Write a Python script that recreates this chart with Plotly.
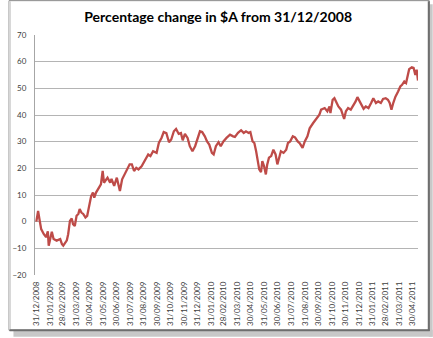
import plotly.graph_objects as go

# Percentage change of the Australian dollar since 31/12/2008
dates = [
    "2008-12-31", "2009-01-04", "2009-01-07", "2009-01-11", "2009-01-17", "2009-01-22",
    "2009-01-26", "2009-01-28", "2009-02-04", "2009-02-08", "2009-02-15", "2009-02-23",
    "2009-02-27", "2009-03-02", "2009-03-10", "2009-03-13", "2009-03-17", "2009-03-21",
    "2009-03-24", "2009-03-28", "2009-04-01", "2009-04-05", "2009-04-08", "2009-04-12",
    "2009-04-16", "2009-04-21", "2009-04-25", "2009-04-29", "2009-05-04", "2009-05-08",
    "2009-05-11", "2009-05-15", "2009-05-21", "2009-05-26", "2009-05-30", "2009-06-02",
    "2009-06-10", "2009-06-16", "2009-06-19", "2009-06-25", "2009-07-01", "2009-07-06",
    "2009-07-08", "2009-07-13", "2009-07-19", "2009-07-24", "2009-07-30", "2009-08-04",
    "2009-08-09", "2009-08-14", "2009-08-19", "2009-08-26", "2009-09-03", "2009-09-10",
    "2009-09-15", "2009-09-21", "2009-09-29", "2009-10-04", "2009-10-10", "2009-10-15",
    "2009-10-21", "2009-10-27", "2009-11-01", "2009-11-07", "2009-11-12", "2009-11-18",
    "2009-11-23", "2009-11-27", "2009-12-02", "2009-12-08", "2009-12-13", "2009-12-19",
    "2009-12-25", "2009-12-30", "2010-01-05", "2010-01-10", "2010-01-16", "2010-01-21",
    "2010-01-26", "2010-02-01", "2010-02-05", "2010-02-10", "2010-02-16", "2010-02-21",
    "2010-02-27", "2010-03-06", "2010-03-14", "2010-03-21", "2010-03-25", "2010-04-01",
    "2010-04-08", "2010-04-14", "2010-04-19", "2010-04-25", "2010-04-29", "2010-05-04",
    "2010-05-08", "2010-05-12", "2010-05-15", "2010-05-19", "2010-05-23", "2010-05-26",
    "2010-05-30", "2010-06-03", "2010-06-06", "2010-06-10", "2010-06-15", "2010-06-20",
    "2010-06-25", "2010-06-29", "2010-07-02", "2010-07-07", "2010-07-13", "2010-07-19",
    "2010-07-23", "2010-07-28", "2010-08-03", "2010-08-08", "2010-08-14", "2010-08-19",
    "2010-08-25", "2010-08-30", "2010-09-05", "2010-09-10", "2010-09-18", "2010-09-25",
    "2010-10-02", "2010-10-06", "2010-10-14", "2010-10-20", "2010-10-25", "2010-10-27",
    "2010-11-01", "2010-11-05", "2010-11-08", "2010-11-14", "2010-11-20", "2010-11-23",
    "2010-11-27", "2010-12-01", "2010-12-06", "2010-12-12", "2010-12-18", "2010-12-23",
    "2010-12-27", "2011-01-01", "2011-01-05", "2011-01-10", "2011-01-15", "2011-01-21",
    "2011-01-27", "2011-02-01", "2011-02-07", "2011-02-12", "2011-02-18", "2011-02-23",
    "2011-03-01", "2011-03-06", "2011-03-10", "2011-03-14", "2011-03-18", "2011-03-23",
    "2011-03-29", "2011-04-03", "2011-04-07", "2011-04-12", "2011-04-16", "2011-04-20",
    "2011-04-23", "2011-04-29", "2011-05-03", "2011-05-07", "2011-05-10", "2011-05-13",
]

pct_change = [
    0.0, 4.0, 1.0, -2.8, -4.7, -5.8,
    -3.6, -9.0, -3.8, -6.5, -7.1, -6.5,
    -8.4, -9.0, -7.0, -4.7, 0.3, 1.2,
    -0.9, -1.6, 2.2, 2.9, 4.7, 3.4,
    2.9, 1.6, 2.2, 5.9, 9.6, 10.9,
    9.0, 10.9, 12.8, 14.0, 19.0, 14.6,
    16.5, 14.6, 16.0, 13.4, 16.5, 12.8,
    11.5, 15.9, 17.7, 19.6, 21.5, 21.5,
    19.0, 20.2, 19.6, 20.8, 23.3, 25.2,
    24.6, 26.4, 25.8, 29.5, 31.4, 33.6,
    33.2, 29.8, 30.8, 33.9, 34.8, 32.9,
    33.2, 30.5, 32.9, 31.4, 28.3, 26.4,
    28.3, 30.8, 33.9, 33.6, 32.0, 30.1,
    28.9, 25.8, 25.2, 28.3, 29.8, 28.3,
    30.1, 31.4, 32.6, 32.0, 31.8, 33.3,
    34.3, 33.3, 33.9, 33.3, 33.6, 30.1,
    29.5, 26.4, 23.3, 19.6, 18.6, 22.7,
    20.8, 17.7, 21.4, 24.0, 24.6, 27.0,
    25.2, 21.5, 23.3, 26.4, 25.8, 27.0,
    29.5, 30.1, 32.0, 31.6, 30.1, 29.3,
    27.7, 30.1, 32.0, 35.0, 37.0, 38.5,
    40.1, 42.0, 42.6, 41.4, 43.2, 40.7,
    45.7, 46.3, 45.1, 43.2, 42.0, 40.1,
    38.5, 41.4, 42.6, 42.0, 43.5, 45.1,
    46.7, 45.1, 43.9, 42.3, 43.2, 42.6,
    44.5, 46.3, 44.5, 45.1, 44.5, 46.0,
    46.3, 45.7, 44.5, 42.0, 44.5, 46.9,
    48.8, 50.7, 51.3, 52.6, 52.0, 55.7,
    57.2, 57.9, 57.7, 55.0, 57.0, 52.9,
]

# Month-end labels on the category axis
tick_dates = [
    "2008-12-31", "2009-01-31", "2009-02-28", "2009-03-31", "2009-04-30", "2009-05-31",
    "2009-06-30", "2009-07-31", "2009-08-31", "2009-09-30", "2009-10-31", "2009-11-30",
    "2009-12-31", "2010-01-31", "2010-02-28", "2010-03-31", "2010-04-30", "2010-05-31",
    "2010-06-30", "2010-07-31", "2010-08-31", "2010-09-30", "2010-10-31", "2010-11-30",
    "2010-12-31", "2011-01-31", "2011-02-28", "2011-03-31", "2011-04-30",
]
tick_labels = [
    "31/12/2008", "31/01/2009", "28/02/2009", "31/03/2009", "30/04/2009", "31/05/2009",
    "30/06/2009", "31/07/2009", "31/08/2009", "30/09/2009", "31/10/2009", "30/11/2009",
    "31/12/2009", "31/01/2010", "28/02/2010", "31/03/2010", "30/04/2010", "31/05/2010",
    "30/06/2010", "31/07/2010", "31/08/2010", "30/09/2010", "31/10/2010", "30/11/2010",
    "31/12/2010", "31/01/2011", "28/02/2011", "31/03/2011", "30/04/2011",
]

W, H = 433, 338
L, R, T, B = 27, 15, 35, 62
pw, ph = W - L - R, H - T - B


def px(x):
    return (x - L) / pw


def py(y):
    return (H - B - y) / ph


fig = go.Figure()
fig.add_trace(go.Scatter(
    x=dates, y=pct_change, mode="lines",
    line=dict(color="#be4b48", width=2.3),
    hoverinfo="x+y", showlegend=False,
))

shapes = [
    # drop shadow of the card
    dict(type="rect", xref="paper", yref="paper", layer="below",
         x0=px(5), x1=px(433), y0=py(331), y1=py(338),
         fillcolor="#c8c8c8", line=dict(width=0)),
    dict(type="rect", xref="paper", yref="paper", layer="below",
         x0=px(429), x1=px(433), y0=py(4), y1=py(338),
         fillcolor="#c8c8c8", line=dict(width=0)),
    # card border
    dict(type="rect", xref="paper", yref="paper", layer="below",
         x0=px(0.5), x1=px(429.5), y0=py(0.5), y1=py(331.5),
         fillcolor="rgba(0,0,0,0)", line=dict(color="#8a8a8a", width=1)),
    dict(type="line", xref="paper", yref="paper", layer="below",
         x0=px(1.5), x1=px(1.5), y0=py(1), y1=py(331),
         line=dict(color="#d8d8d8", width=2)),
    dict(type="line", xref="paper", yref="paper", layer="below",
         x0=px(429), x1=px(429), y0=py(1), y1=py(332),
         line=dict(color="#6e6e6e", width=2)),
    dict(type="line", xref="paper", yref="paper", layer="below",
         x0=px(1), x1=px(430), y0=py(331.5), y1=py(331.5),
         line=dict(color="#6e6e6e", width=2)),
]

fig.update_layout(
    width=W, height=H,
    margin=dict(l=L, r=R, t=T, b=B),
    paper_bgcolor="white", plot_bgcolor="white",
    shapes=shapes,
    title=dict(
        text="Percentage change in $A from 31/12/2008",
        x=px(214), xanchor="center", xref="paper",
        y=1 - 17 / H, yanchor="middle",
        font=dict(family="Lato", size=14, color="#000000", weight="bold"),
    ),
    xaxis=dict(
        type="date",
        range=["2008-12-28", "2011-05-13"],
        tickmode="array", tickvals=tick_dates, ticktext=tick_labels,
        tickangle=-90,
        tickfont=dict(family="Lato", size=8, color="#404040"),
        showgrid=False, zeroline=False,
        showline=False, ticks="", ticklabelstandoff=4,
    ),
    yaxis=dict(
        range=[-20, 70], dtick=10, tick0=0,
        tickfont=dict(family="Lato", size=8, color="#404040"),
        showgrid=True, gridcolor="#b4b4b4", gridwidth=1,
        zeroline=False,
        showline=True, linecolor="#a6a6a6", linewidth=1,
        ticks="", ticklabelstandoff=6,
    ),
)

fig.write_html("out.html")
